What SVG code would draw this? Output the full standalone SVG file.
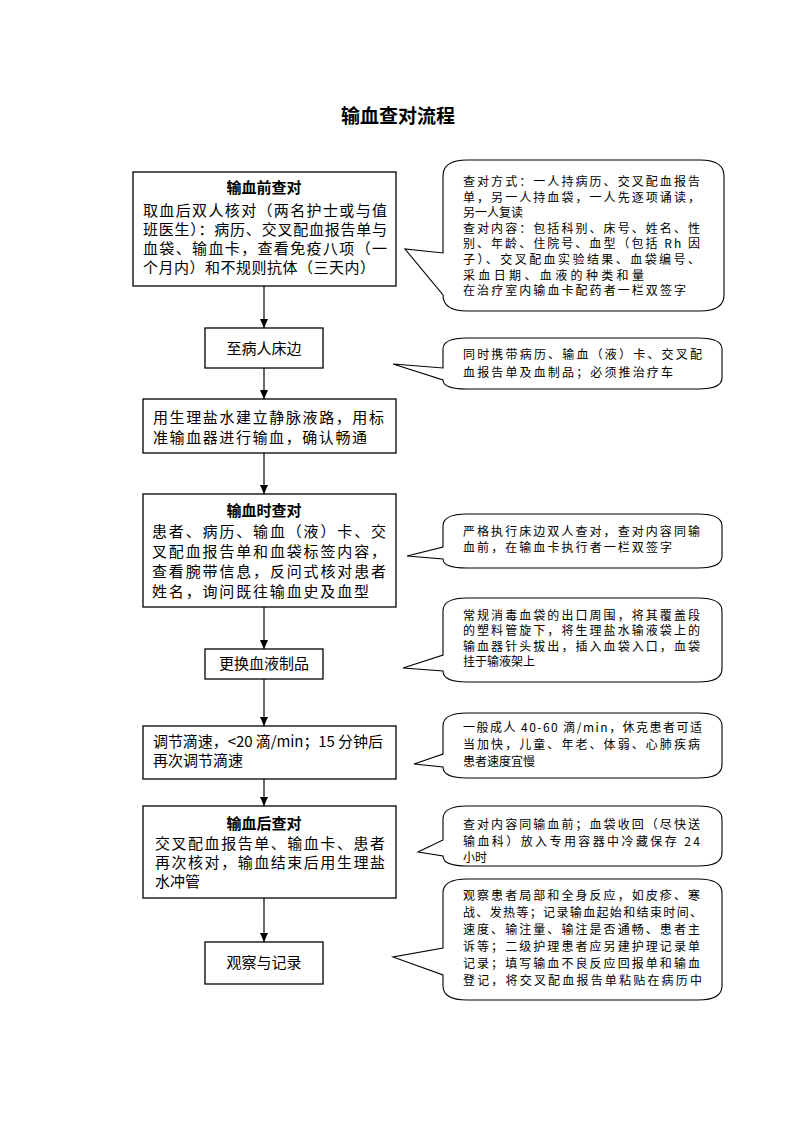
<svg xmlns="http://www.w3.org/2000/svg" width="793" height="1122" viewBox="0 0 793 1122">
<defs>
<style>
text{font-family:"Noto Sans CJK SC","Liberation Sans",sans-serif;fill:#000}
.title{font-size:19px;font-weight:bold;text-anchor:middle}
.box{fill:#fff;stroke:#000;stroke-width:1.3}
.bt{font-size:15px}
.bh{font-size:15px;font-weight:bold;text-anchor:middle}
.ct{font-size:12px}
.call{fill:#fff;stroke:#000;stroke-width:1.1}
.conn{stroke:#000;stroke-width:1.2;fill:none}
</style>
<marker id="ad" markerUnits="userSpaceOnUse" markerWidth="8" markerHeight="9" refX="4" refY="9" viewBox="0 0 8 9">
<path d="M0,0 L8,0 L4,9 Z" fill="#000"/>
</marker>
</defs>
<rect width="793" height="1122" fill="#fff"/>
<text class="title" x="398" y="123">输血查对流程</text>

<g id="connectors">
<line class="conn" x1="264" y1="286" x2="264" y2="328" marker-end="url(#ad)"/>
<line class="conn" x1="264" y1="368" x2="264" y2="399" marker-end="url(#ad)"/>
<line class="conn" x1="264" y1="453" x2="264" y2="494" marker-end="url(#ad)"/>
<line class="conn" x1="264" y1="607" x2="264" y2="649" marker-end="url(#ad)"/>
<line class="conn" x1="264" y1="679" x2="264" y2="726" marker-end="url(#ad)"/>
<line class="conn" x1="264" y1="779" x2="264" y2="806" marker-end="url(#ad)"/>
<line class="conn" x1="264" y1="898" x2="264" y2="942" marker-end="url(#ad)"/>
</g>

<g id="n1">
<rect class="box" x="133" y="172" width="263" height="114"/>
<text class="bh" x="264" y="193">输血前查对</text>
<text class="bt" x="143" y="216" textLength="244" lengthAdjust="spacing">取血后双人核对（两名护士或与值</text>
<text class="bt" x="143" y="235" textLength="244" lengthAdjust="spacing">班医生）：病历、交叉配血报告单与</text>
<text class="bt" x="143" y="254" textLength="244" lengthAdjust="spacing">血袋、输血卡，查看免疫八项（一</text>
<text class="bt" x="143" y="273" textLength="232" lengthAdjust="spacing">个月内）和不规则抗体（三天内）</text>
</g>

<g id="n2">
<rect class="box" x="205" y="328" width="118" height="40"/>
<text class="bt" x="264" y="354" text-anchor="middle">至病人床边</text>
</g>

<g id="n3">
<rect class="box" x="143" y="399" width="253" height="54"/>
<text class="bt" x="153" y="423" textLength="231" lengthAdjust="spacing">用生理盐水建立静脉液路，用标</text>
<text class="bt" x="153" y="443" textLength="214" lengthAdjust="spacing">准输血器进行输血，确认畅通</text>
</g>

<g id="n4">
<rect class="box" x="143" y="494" width="253" height="113"/>
<text class="bh" x="264" y="516">输血时查对</text>
<text class="bt" x="152" y="537" textLength="234" lengthAdjust="spacing">患者、病历、输血（液）卡、交</text>
<text class="bt" x="152" y="557" textLength="234" lengthAdjust="spacing">叉配血报告单和血袋标签内容，</text>
<text class="bt" x="152" y="577" textLength="234" lengthAdjust="spacing">查看腕带信息，反问式核对患者</text>
<text class="bt" x="152" y="597" textLength="217" lengthAdjust="spacing">姓名，询问既往输血史及血型</text>
</g>

<g id="n5">
<rect class="box" x="205" y="649" width="118" height="30"/>
<text class="bt" x="264" y="669" text-anchor="middle">更换血液制品</text>
</g>

<g id="n6">
<rect class="box" x="143" y="726" width="253" height="53"/>
<text class="bt" x="153" y="747" textLength="230" lengthAdjust="spacing">调节滴速，&lt;20 滴/min；15 分钟后</text>
<text class="bt" x="153" y="766">再次调节滴速</text>
</g>

<g id="n7">
<rect class="box" x="143" y="806" width="253" height="92"/>
<text class="bh" x="264" y="829">输血后查对</text>
<text class="bt" x="155" y="849" textLength="230" lengthAdjust="spacing">交叉配血报告单、输血卡、患者</text>
<text class="bt" x="155" y="868" textLength="230" lengthAdjust="spacing">再次核对，输血结束后用生理盐</text>
<text class="bt" x="155" y="887">水冲管</text>
</g>

<g id="n8">
<rect class="box" x="205" y="942" width="118" height="42"/>
<text class="bt" x="264" y="968" text-anchor="middle">观察与记录</text>
</g>

<g id="c1">
<path class="call" d="M467,160 L700,160 Q724,160 724,176 L724,295 Q724,311 700,311 L467,311 Q443,311 443,295 L405,249 L443,253 L443,176 Q443,160 467,160 Z"/>
<text class="ct" x="463" y="186" textLength="237" lengthAdjust="spacing">查对方式：一人持病历、交叉配血报告</text>
<text class="ct" x="463" y="202" textLength="237" lengthAdjust="spacing">单，另一人持血袋，一人先逐项诵读，</text>
<text class="ct" x="463" y="217">另一人复读</text>
<text class="ct" x="463" y="233" textLength="237" lengthAdjust="spacing">查对内容：包括科别、床号、姓名、性</text>
<text class="ct" x="463" y="248" textLength="237" lengthAdjust="spacing">别、年龄、住院号、血型（包括 Rh 因</text>
<text class="ct" x="463" y="264" textLength="237" lengthAdjust="spacing">子）、交叉配血实验结果、血袋编号、</text>
<text class="ct" x="463" y="280" textLength="181" lengthAdjust="spacing">采血日期、血液的种类和量</text>
<text class="ct" x="463" y="295" textLength="223" lengthAdjust="spacing">在治疗室内输血卡配药者一栏双签字</text>
</g>

<g id="c2">
<path class="call" d="M467,338 L698,338 Q722,338 722,349 L722,378 Q722,389 698,389 L467,389 Q443,389 443,380 L393,364 L443,368 L443,349 Q443,338 467,338 Z"/>
<text class="ct" x="463" y="359" textLength="239" lengthAdjust="spacing">同时携带病历、输血（液）卡、交叉配</text>
<text class="ct" x="463" y="377" textLength="210" lengthAdjust="spacing">血报告单及血制品；必须推治疗车</text>
</g>

<g id="c4">
<path class="call" d="M467,514 L698,514 Q722,514 722,526 L722,556 Q722,568 698,568 L467,568 Q443,568 443,559 L407,556 L443,547 L443,526 Q443,514 467,514 Z"/>
<text class="ct" x="463" y="536" textLength="237" lengthAdjust="spacing">严格执行床边双人查对，查对内容同输</text>
<text class="ct" x="463" y="552" textLength="209" lengthAdjust="spacing">血前，在输血卡执行者一栏双签字</text>
</g>

<g id="c5">
<path class="call" d="M467,598 L698,598 Q722,598 722,611 L722,669 Q722,682 698,682 L467,682 Q443,682 443,671 L403,668 L443,655 L443,611 Q443,598 467,598 Z"/>
<text class="ct" x="463" y="620" textLength="237" lengthAdjust="spacing">常规消毒血袋的出口周围，将其覆盖段</text>
<text class="ct" x="463" y="635" textLength="237" lengthAdjust="spacing">的塑料管旋下，将生理盐水输液袋上的</text>
<text class="ct" x="463" y="651" textLength="237" lengthAdjust="spacing">输血器针头拔出，插入血袋入口，血袋</text>
<text class="ct" x="463" y="666">挂于输液架上</text>
</g>

<g id="c6">
<path class="call" d="M467,713 L698,713 Q722,713 722,726 L722,765 Q722,778 698,778 L467,778 Q443,778 443,767 L414,764 L443,754 L443,726 Q443,713 467,713 Z"/>
<text class="ct" x="463" y="732" textLength="239" lengthAdjust="spacing">一般成人 40-60 滴/min，休克患者可适</text>
<text class="ct" x="463" y="749" textLength="237" lengthAdjust="spacing">当加快，儿童、年老、体弱、心肺疾病</text>
<text class="ct" x="463" y="766">患者速度宜慢</text>
</g>

<g id="c7">
<path class="call" d="M467,806 L698,806 Q722,806 722,819 L722,853 Q722,866 698,866 L467,866 Q443,866 443,856 L418,852 L443,840 L443,819 Q443,806 467,806 Z"/>
<text class="ct" x="463" y="829" textLength="237" lengthAdjust="spacing">查对内容同输血前；血袋收回（尽快送</text>
<text class="ct" x="463" y="846" textLength="237" lengthAdjust="spacing">输血科）放入专用容器中冷藏保存 24</text>
<text class="ct" x="463" y="862">小时</text>
</g>

<g id="c8">
<path class="call" d="M467,879 L698,879 Q722,879 722,893 L722,986 Q722,1000 698,1000 L467,1000 Q443,1000 443,986 L443,975 L393,957 L443,948 L443,893 Q443,879 467,879 Z"/>
<text class="ct" x="463" y="900" textLength="237" lengthAdjust="spacing">观察患者局部和全身反应，如皮疹、寒</text>
<text class="ct" x="463" y="917" textLength="239" lengthAdjust="spacing">战、发热等；记录输血起始和结束时间、</text>
<text class="ct" x="463" y="934" textLength="237" lengthAdjust="spacing">速度、输注量、输注是否通畅、患者主</text>
<text class="ct" x="463" y="951" textLength="237" lengthAdjust="spacing">诉等；二级护理患者应另建护理记录单</text>
<text class="ct" x="463" y="968" textLength="237" lengthAdjust="spacing">记录；填写输血不良反应回报单和输血</text>
<text class="ct" x="463" y="985" textLength="239" lengthAdjust="spacing">登记，将交叉配血报告单粘贴在病历中</text>
</g>
</svg>
